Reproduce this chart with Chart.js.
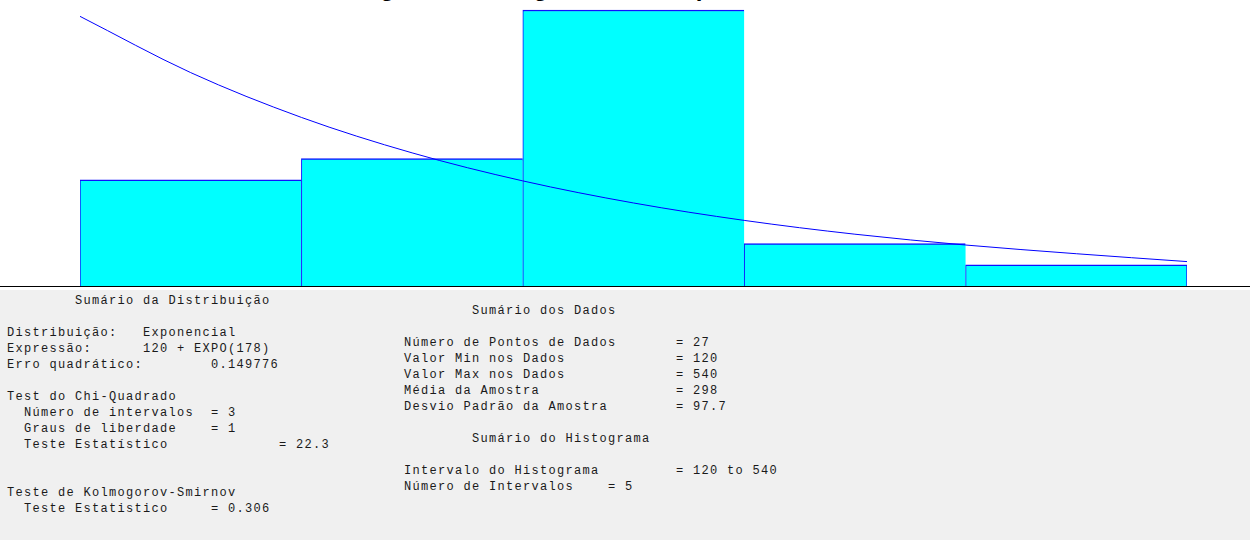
<!DOCTYPE html>
<html>
<head>
<meta charset="utf-8">
<script src="https://cdn.jsdelivr.net/npm/chart.js@4.4.1/dist/chart.umd.min.js"></script>
<style>
  html, body { margin: 0; padding: 0; background: #ffffff; overflow: hidden; }
  body { width: 1250px; height: 540px; position: relative; }
  #title {
    position: absolute; left: 0; width: 1268px; top: -25px;
    text-align: center; font: bold 24px "Liberation Sans", Arial, sans-serif;
    line-height: 26px; color: #000; white-space: nowrap;
  }
  #chartBox { position: absolute; left: 0; top: 0; width: 1250px; height: 286px; }
  #axisLine { position: absolute; left: 0; top: 286px; width: 1250px; height: 1px; background: #000; }
  #panel { position: absolute; left: 0; top: 290px; width: 1250px; height: 250px; background: #f0f0f0; }
  pre {
    position: absolute; margin: 0;
    font-family: "Liberation Mono", "Courier New", monospace;
    font-size: 12px; letter-spacing: 1.3px; line-height: 16px; color: #1a1a1a;
  }
  #leftText { left: 7px; top: 293px; }
  #rightText { left: 404px; top: 303px; }
</style>
</head>
<body>
<div id="title">Figura 3 - Histograma do Tempo de atendimento</div>
<div id="chartBox"><canvas id="histChart"></canvas></div>
<div id="axisLine"></div>
<div id="panel"></div>
<pre id="leftText">        Sumário da Distribuição

Distribuição:   Exponencial
Expressão:      120 + EXPO(178)
Erro quadrático:        0.149776

Test do Chi-Quadrado
  Número de intervalos  = 3
  Graus de liberdade    = 1
  Teste Estatístico             = 22.3


Teste de Kolmogorov-Smirnov
  Teste Estatistico     = 0.306</pre>
<pre id="rightText">        Sumário dos Dados

Número de Pontos de Dados       = 27
Valor Min nos Dados             = 120
Valor Max nos Dados             = 540
Média da Amostra                = 298
Desvio Padrão da Amostra        = 97.7

        Sumário do Histograma

Intervalo do Histograma         = 120 to 540
Número de Intervalos    = 5</pre>
<script>
// Histogram data (interval centres and counts)
const binCenters = [162, 246, 330, 414, 498];
const counts = [5, 6, 13, 2, 1];
const binWidth = 84;
const xMin = 120;
const xMax = 540;

// Fitted exponential curve (in count units)
const curveX = [120, 162, 204, 246, 288, 330, 372, 414, 456, 498, 540];
const curveY = [12.7, 10.05, 7.94, 6.27, 4.95, 3.91, 3.09, 2.44, 1.93, 1.52, 1.15];

let ctx = document.getElementById('histChart').getContext('2d');
let histChart = new Chart(ctx, {
    type: 'bar',
    data: {
        datasets: [{
            type: 'line',
            data: curveX.map((x, i) => ({ x: x, y: curveY[i] })),
            borderColor: '#0000ff',
            borderWidth: 1,
            pointRadius: 0,
            cubicInterpolationMode: 'monotone',
            fill: false,
            order: 0
        }, {
            type: 'bar',
            data: binCenters.map((x, i) => ({ x: x, y: counts[i] })),
            backgroundColor: '#00ffff',
            borderColor: '#1010ff',
            borderWidth: (c) => ({ top: 1.5, left: 1, bottom: 0, right: c.dataIndex === counts.length - 1 ? 1 : 0 }),
            borderSkipped: false,
            barPercentage: 1,
            categoryPercentage: 1,
            order: 1
        }]
    },
    options: {
        responsive: true,
        maintainAspectRatio: false,
        animation: false,
        layout: { padding: { left: 80, right: 63, top: 0, bottom: 0 } },
        plugins: {
            legend: { display: false },
            tooltip: { enabled: false }
        },
        scales: {
            x: { type: 'linear', min: xMin, max: xMax, offset: false, display: false,
                 ticks: { stepSize: binWidth } },
            y: { min: 0, max: 13.47, display: false }
        }
    }
});
</script>
</body>
</html>
